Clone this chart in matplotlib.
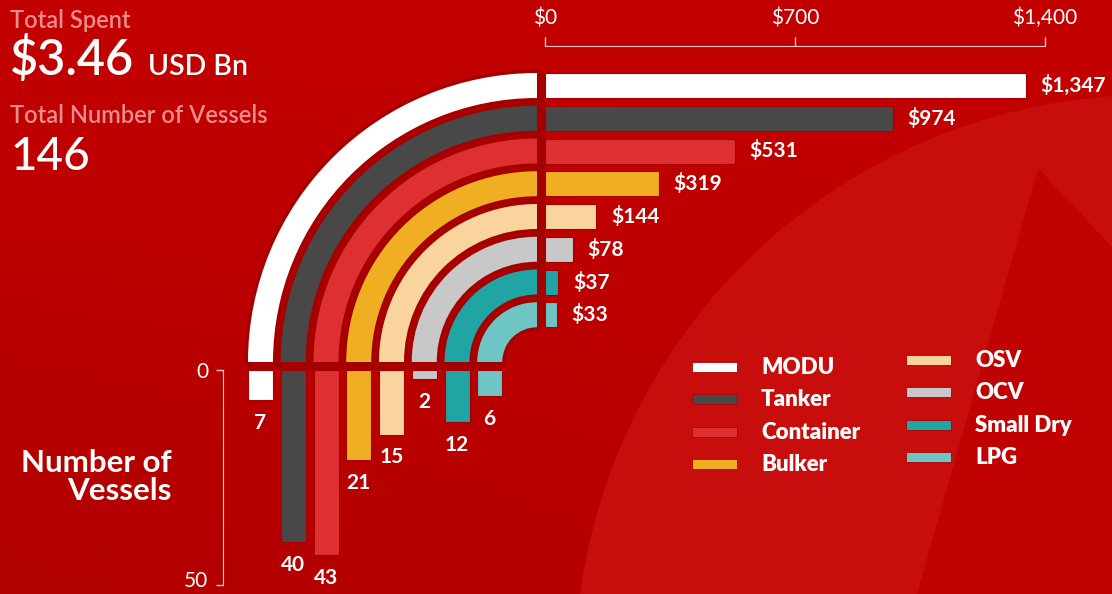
import matplotlib
matplotlib.use('Agg')
import matplotlib.pyplot as plt
import matplotlib.transforms as mtransforms
from matplotlib.patches import Wedge, Rectangle, Circle, Polygon
from matplotlib.colors import LinearSegmentedColormap
import numpy as np

# data
categories = ['MODU', 'Tanker', 'Container', 'Bulker', 'OSV', 'OCV', 'Small Dry', 'LPG']
spent = [1347, 974, 531, 319, 144, 78, 37, 33]      # USD m
vessels = [7, 40, 43, 21, 15, 2, 12, 6]
colors = ['#FFFFFF', '#484848', '#DE3030', '#F0AE22',
          '#F9D49C', '#C8C8C8', '#20A4A4', '#6EC6C4']
spent_ticks = [0, 700, 1400]
vessel_ticks = [0, 50]
total_spent = '$3.46'
total_unit = 'USD Bn'
total_vessels = '146'

W, H = 1112, 594
SHADOW = '#A40000'
PINK = '#EC8C8C'
AXCOL = '#F4CACA'
FONT = 'Lato'
plt.rcParams['font.family'] = [FONT, 'DejaVu Sans']

# layout (pixels)
X0 = 545        # $0 line
XSPAN = 500     # pixels for 0..1400
ROW0 = 85.5     # centre of first row / column step
STEP = 32.75
BAR = 25
Y0 = 370        # 0 vessels line
YSPAN = 215     # pixels for 0..50
COL0 = 260.5
GAP = 8


def px_box(x, y, w, h):
    return [x / W, 1 - (y + h) / H, w / W, h / H]


fig = plt.figure(figsize=(W / 100., H / 100.), dpi=100)

# background
bg = fig.add_axes([0, 0, 1, 1])
bg.set_xlim(0, W)
bg.set_ylim(H, 0)
bg.axis('off')
yy, xx = np.mgrid[0:1:60j, 0:1:110j]
grad = yy * (1 - 0.6 * xx)
cmap = LinearSegmentedColormap.from_list('bg', ['#C30000', '#B10000'])
bg.imshow(grad, cmap=cmap, extent=(0, W, H, 0), aspect='auto', zorder=0)
bg.add_patch(Circle((1151, 671), 576, color='#C80D0D', lw=0, zorder=1))
bg.add_patch(Polygon([(1038, 168), (917, 594), (1112, 594), (1112, 247)],
                     closed=True, color='#C10202', lw=0, zorder=1))

# arcs joining the two bar sets
cx, cy = X0 - GAP, Y0 - GAP
n = len(categories)
r_top = cx - (COL0 - BAR / 2.)
bg.add_patch(Rectangle((cx, ROW0 - BAR / 2.), GAP, (n - 1) * STEP + BAR,
                       color=SHADOW, lw=0, zorder=2))
bg.add_patch(Rectangle((COL0 - BAR / 2., cy), (n - 1) * STEP + BAR, GAP,
                       color=SHADOW, lw=0, zorder=2))
for i in range(n):
    r = r_top - i * STEP
    bg.add_patch(Wedge((cx, cy), r, 180, 270, width=BAR, facecolor=SHADOW,
                       edgecolor=SHADOW, lw=5, zorder=2))
for i in range(n):
    r = r_top - i * STEP
    bg.add_patch(Wedge((cx, cy), r, 180, 270, width=BAR, facecolor=colors[i],
                       lw=0, zorder=3))

# headline numbers
bg.text(10, 28, 'Total Spent', color=PINK, fontsize=17, fontweight='semibold')
bg.text(10, 75, total_spent, color='white', fontsize=35, fontweight='semibold')
bg.text(148, 75, total_unit, color='white', fontsize=20.5, fontweight='semibold')
bg.text(10, 123, 'Total Number of Vessels', color=PINK, fontsize=17,
        fontweight='semibold')
bg.text(10, 170, total_vessels, color='white', fontsize=33,
        fontweight='medium')
bg.text(172, 472, 'Number of', color='white', fontsize=22.5,
        fontweight='bold', ha='right')
bg.text(172, 500, 'Vessels', color='white', fontsize=22.5,
        fontweight='bold', ha='right')

# legend
for j in range(n):
    col, row = j // 4, j % 4
    sx = [692, 906][col]
    sy = [367, 360][col] + row * 32.4
    bg.add_patch(Rectangle((sx, sy - 5), 45, 10, facecolor=colors[j],
                           edgecolor='#B00000', lw=0.6, zorder=3))
    bg.text(sx + 69, sy + 7, categories[j], color='white', fontsize=16,
            fontweight='heavy')

# spend bars
ax_h = fig.add_axes(px_box(X0, ROW0 - STEP / 2., XSPAN, STEP * n))
ax_h.patch.set_visible(False)
ax_h.barh(range(n), spent, height=BAR / STEP, color=colors,
          edgecolor='#A80000', lw=0.8)
ax_h.set_xlim(0, 1400)
ax_h.set_ylim(n - 0.5, -0.5)
for i, v in enumerate(spent):
    ax_h.annotate('${:,}'.format(v), xy=(v, i), xytext=(10.5, 0),
                  textcoords='offset points', va='center', ha='left',
                  color='white', fontsize=15, fontweight='bold')
for s in ['left', 'right', 'bottom']:
    ax_h.spines[s].set_visible(False)
ax_h.spines['top'].set_position(('outward', 17))
ax_h.spines['top'].set_color(AXCOL)
ax_h.xaxis.tick_top()
ax_h.set_xticks(spent_ticks)
ax_h.set_xticklabels(['${:,}'.format(t) for t in spent_ticks])
ax_h.tick_params(axis='x', direction='out', length=6.5, width=1,
                 color=AXCOL, labelcolor='white', labelsize=15, pad=6)
ax_h.set_yticks([])

# vessel bars
ax_v = fig.add_axes(px_box(COL0 - STEP / 2., Y0, STEP * n, YSPAN))
ax_v.patch.set_visible(False)
ax_v.bar(range(n), vessels, width=BAR / STEP, color=colors,
         edgecolor='#A80000', lw=0.8)
ax_v.set_xlim(-0.5, n - 0.5)
ax_v.set_ylim(50, 0)
for i, v in enumerate(vessels):
    ax_v.annotate(str(v), xy=(i, v), xytext=(0, -16.5),
                  textcoords='offset points', va='center', ha='center',
                  color='white', fontsize=15, fontweight='bold')
for s in ['top', 'right', 'bottom']:
    ax_v.spines[s].set_visible(False)
ax_v.spines['left'].set_position(('outward', 15))
ax_v.spines['left'].set_color(AXCOL)
ax_v.set_yticks(vessel_ticks)
ax_v.tick_params(axis='y', direction='out', length=5, width=1,
                 color=AXCOL, labelcolor='white', labelsize=15, pad=6)
ax_v.set_xticks([])
# keep the bottom label inside the picture
shift = mtransforms.ScaledTranslation(0, 4 / 72., fig.dpi_scale_trans)
lab50 = ax_v.get_yticklabels()[-1]
lab50.set_transform(lab50.get_transform() + shift)

fig.savefig('out.png', dpi=100)
